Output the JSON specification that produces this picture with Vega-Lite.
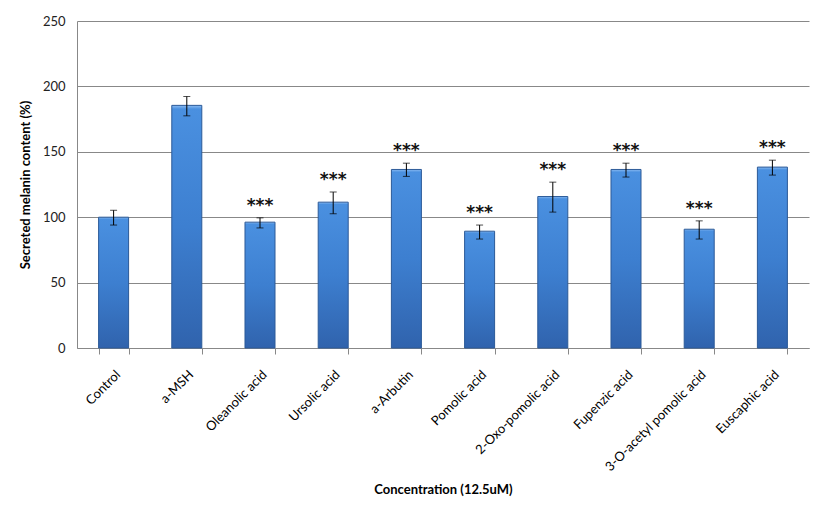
{
  "$schema": "https://vega.github.io/schema/vega-lite/v6.json",
  "autosize": "none",
  "padding": {"left": 77, "top": 21, "right": 24, "bottom": 165},
  "width": 732,
  "height": 327,
  "background": "white",
  "config": {"view": {"stroke": null}, "font": "Lato"},
  "data": {"values": [
    {"name": "Control", "value": 100, "lo": 94, "hi": 105.3, "sig": ""},
    {"name": "a-MSH", "value": 185.5, "lo": 177.5, "hi": 192.3, "sig": ""},
    {"name": "Oleanolic acid", "value": 96.2, "lo": 91.8, "hi": 99.5, "sig": "***"},
    {"name": "Ursolic acid", "value": 111.5, "lo": 102.6, "hi": 119.2, "sig": "***"},
    {"name": "a-Arbutin", "value": 136.5, "lo": 131.2, "hi": 141.3, "sig": "***"},
    {"name": "Pomolic acid", "value": 89.3, "lo": 83.3, "hi": 94, "sig": "***"},
    {"name": "2-Oxo-pomolic  acid", "value": 115.8, "lo": 103.9, "hi": 126.8, "sig": "***"},
    {"name": "Fupenzic acid", "value": 136.5, "lo": 130.7, "hi": 141.3, "sig": "***"},
    {"name": "3-O-acetyl pomolic  acid", "value": 90.8, "lo": 83.3, "hi": 97.2, "sig": "***"},
    {"name": "Euscaphic acid", "value": 138.3, "lo": 132.2, "hi": 143.6, "sig": "***"}
  ]},
  "encoding": {
    "x": {
      "field": "name", "type": "nominal", "sort": null,
      "scale": {"paddingInner": 0.59, "paddingOuter": 0.295},
      "axis": {
        "title": "Concentration (12.5uM)",
        "titleFont": "Lato", "titleFontSize": 13, "titleFontWeight": "bold", "titleColor": "#000",
        "titleY": 135, "titleBaseline": "top",
        "labelAngle": -45, "labelFont": "Lato", "labelFontSize": 13,
        "labelColor": "#000", "labelPadding": 14,
        "tickBand": "extent", "tickColor": "#888", "tickSize": 6,
        "domainColor": "#888", "grid": false
      }
    }
  },
  "layer": [
    {
      "mark": {
        "type": "bar",
        "fill": {"gradient": "linear", "x1": 0, "y1": 0, "x2": 0, "y2": 1,
          "stops": [{"offset": 0, "color": "#8cbcf2"}, {"offset": 0.015, "color": "#4a90e0"}, {"offset": 0.5, "color": "#3d7fd0"}, {"offset": 1, "color": "#3063ad"}]},
        "stroke": "#2c5a98", "strokeWidth": 1
      },
      "encoding": {
        "y": {
          "field": "value", "type": "quantitative",
          "title": "Secreted melanin content (%)",
          "scale": {"domain": [0, 250], "nice": false},
          "axis": {
            "titleFont": "Lato", "titleFontSize": 13, "titleFontWeight": "bold", "titleColor": "#000",
            "titleX": -52, "titleBaseline": "middle",
            "values": [0, 50, 100, 150, 200, 250],
            "labelFont": "Lato", "labelFontSize": 13, "labelColor": "#222", "labelPadding": 12,
            "ticks": false, "domainColor": "#888",
            "gridColor": "#888", "gridWidth": 1
          }
        }
      }
    },
    {
      "mark": {"type": "errorbar", "ticks": {"size": 7, "color": "#000"}, "rule": {"color": "#000"}},
      "encoding": {
        "y": {"field": "lo", "type": "quantitative", "title": "Secreted melanin content (%)"},
        "y2": {"field": "hi"}
      }
    },
    {
      "mark": {"type": "text", "baseline": "bottom", "dy": -3, "fontSize": 17, "font": "DejaVu Sans", "fontWeight": "bold", "color": "#111"},
      "encoding": {
        "y": {"field": "hi", "type": "quantitative", "title": "Secreted melanin content (%)"},
        "text": {"field": "sig"}
      }
    }
  ]
}
